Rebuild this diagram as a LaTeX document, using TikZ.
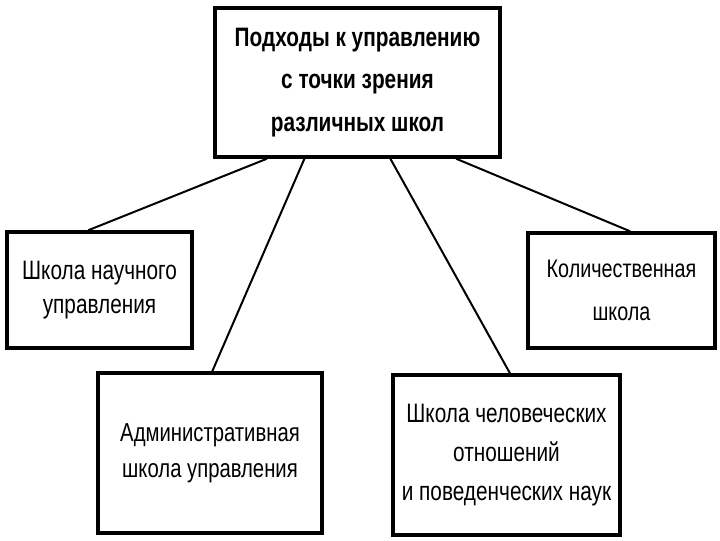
\documentclass[tikz,border=0pt]{standalone}
\usepackage{fontspec}
\setmainfont{Liberation Sans}[FakeStretch=0.78]
\usetikzlibrary{calc}
\begin{document}
\begin{tikzpicture}[x=0.75pt,y=-0.75pt,
  box/.style={draw=black,line width=2.6pt,fill=white,inner sep=0pt,align=center},
  conn/.style={draw=black,line width=1.5pt}]
\useasboundingbox (0,0) rectangle (720,540);
\fill[white] (0,0) rectangle (720,540);
\node[box,minimum width=285*0.75pt,minimum height=149*0.75pt,
  font=\bfseries\fontsize{20}{32}\selectfont] (top) at (357.5,82.5)
  {Подходы к управлению\\с точки зрения\\различных школ};
\node[box,minimum width=185*0.75pt,minimum height=116*0.75pt,
  font=\fontsize{20}{25}\selectfont] (left) at (99.5,290)
  {Школа научного\\управления};
\node[box,minimum width=187*0.75pt,minimum height=115*0.75pt,
  font=\fontsize{19}{32}\selectfont] (right) at (621.5,290.5)
  {Количественная\\школа};
\node[box,minimum width=224*0.75pt,minimum height=160*0.75pt,
  font=\fontsize{19.5}{27}\selectfont] (adm) at (210,453)
  {Административная\\школа управления};
\node[box,minimum width=227*0.75pt,minimum height=160*0.75pt,
  font=\fontsize{20}{29}\selectfont] (hum) at (506.5,455)
  {Школа человеческих\\отношений\\и поведенческих наук};
\draw[conn] ($(top.south west)!0.186!(top.south east)$) -- ($(left.north west)!0.44!(left.north east)$);
\draw[conn] ($(top.south west)!0.316!(top.south east)$) -- ($(adm.north west)!0.51!(adm.north east)$);
\draw[conn] ($(top.south west)!0.614!(top.south east)$) -- ($(hum.north west)!0.515!(hum.north east)$);
\draw[conn] ($(top.south west)!0.842!(top.south east)$) -- ($(right.north west)!0.545!(right.north east)$);
\end{tikzpicture}
\end{document}
